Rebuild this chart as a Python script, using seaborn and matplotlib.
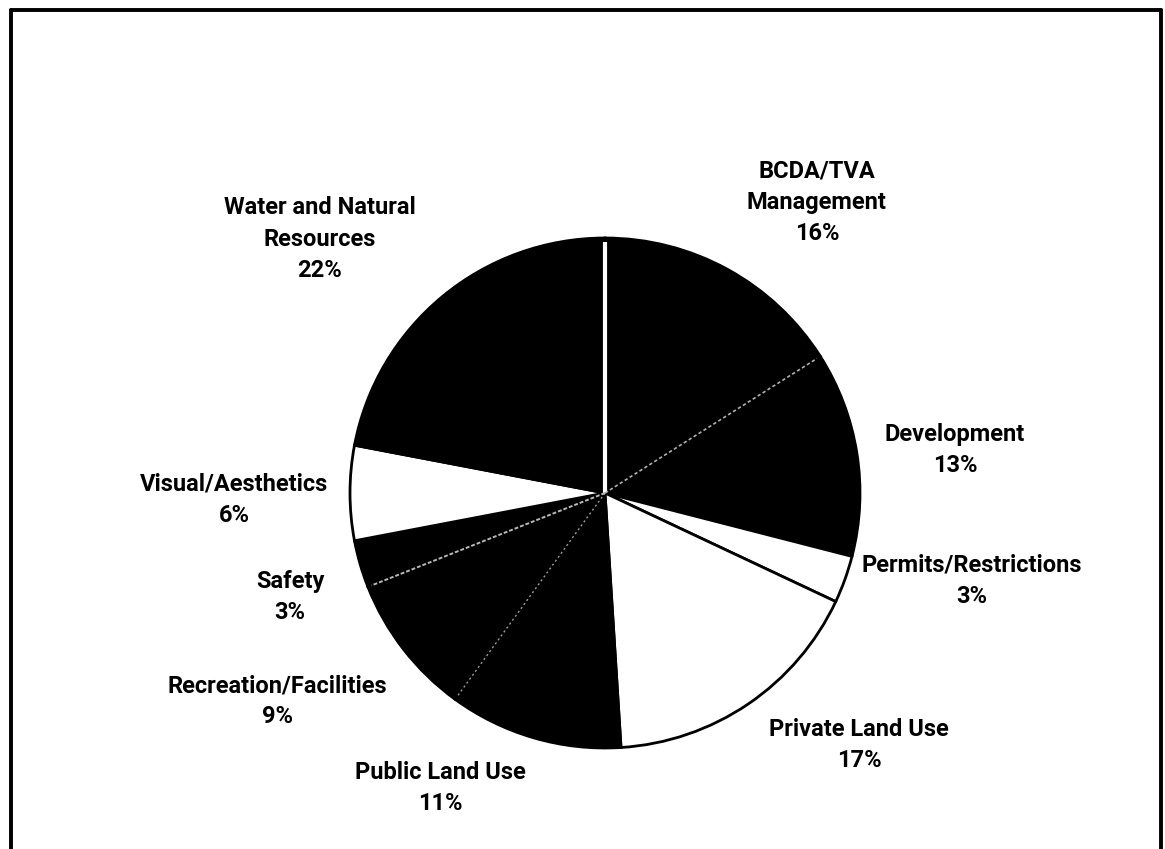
import numpy as np
import matplotlib
matplotlib.use("Agg")
import matplotlib.pyplot as plt
from matplotlib.lines import Line2D
import seaborn as sns

# Share of comments by topic (clockwise from 12 o'clock)
categories = [
    "BCDA/TVA\nManagement",
    "Development",
    "Permits/Restrictions",
    "Private Land Use",
    "Public Land Use",
    "Recreation/Facilities",
    "Safety",
    "Visual/Aesthetics",
    "Water and Natural\nResources",
]
shares = [16, 13, 3, 17, 11, 9, 3, 6, 22]

# Wedge fills: dark topics vs. light topics
fills = ["black", "black", "white", "white", "black", "black", "black", "white", "black"]

# Label anchors (in pie-radius units, relative to the pie centre)
label_pos = [
    (0.831, 1.141),
    (1.373, 0.169),
    (1.439, -0.345),
    (0.996, -0.988),
    (-0.647, -1.157),
    (-1.286, -0.816),
    (-1.235, -0.408),
    (-1.453, -0.027),
    (-1.118, 0.996),
]

sns.set_theme(style="white")
plt.rcParams["font.family"] = ["Roboto", "DejaVu Sans"]

W, H = 1165, 849
cx, cy, r = 605, 493, 255  # pie centre and radius in pixels

fig = plt.figure(figsize=(W / 100, H / 100), dpi=100)
ax = fig.add_axes([0, 0, 1, 1])

wedges, _ = ax.pie(
    shares,
    colors=fills,
    startangle=90,
    counterclock=False,
    radius=1.0,
    center=(0, 0),
    wedgeprops=dict(edgecolor="black", linewidth=2.0),
    frame=True,
)
ax.set_xlim(-cx / r, (W - cx) / r)
ax.set_ylim(-(H - cy) / r, cy / r)
ax.set_aspect("auto")
ax.axis("off")

# Boundaries between adjacent dark wedges show as light seams
bounds = 90 - 360 * np.cumsum([0] + shares[:-1]) / sum(shares)
seam_style = {
    0: dict(color="white", lw=3.0, ls="-"),
    1: dict(color="#b0b0b0", lw=1.2, ls=(0, (2, 1.5))),
    5: dict(color="#9a9a9a", lw=1.0, ls=(0, (1.5, 2))),
    6: dict(color="#b8b8b8", lw=1.4, ls=(0, (2, 1))),
}
for idx, st in seam_style.items():
    a = np.deg2rad(bounds[idx])
    ax.plot([0, 0.985 * np.cos(a)], [0, 0.985 * np.sin(a)], solid_capstyle="butt", zorder=5, **st)

# Category labels with percentages
for name, val, (lx, ly) in zip(categories, shares, label_pos):
    ax.text(lx, ly, f"{name}\n{val}%", ha="center", va="center",
            fontsize=17, fontweight="bold", color="black", linespacing=1.45, zorder=6)

# Outer frame
fx0, fx1, fy1 = 10.5 / W, 1161 / W, 1 - 10 / H
for xs, ys in [([fx0, fx0], [0, fy1]), ([fx0, fx1], [fy1, fy1]), ([fx1, fx1], [fy1, 0])]:
    fig.add_artist(Line2D(xs, ys, transform=fig.transFigure, color="black", lw=2.8))

fig.savefig("out.png", dpi=100, facecolor="white")
